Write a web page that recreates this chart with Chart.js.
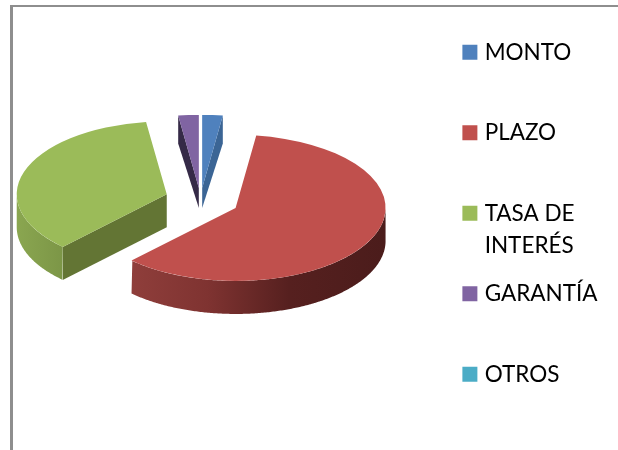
<!DOCTYPE html>
<html lang="es">
<head>
<meta charset="utf-8">
<title>Pie</title>
<script src="https://cdn.jsdelivr.net/npm/chart.js@4"></script>
<style>
html,body{margin:0;padding:0;background:#fff;width:618px;height:450px;overflow:hidden}
#wrap{position:relative;width:618px;height:450px}
#frameTop{position:absolute;left:10px;top:5px;right:0;height:2px;background:#8e8e8e}
#frameLeft{position:absolute;left:10px;top:5px;bottom:0;width:3px;background:#8e8e8e}
canvas{position:absolute;left:0;top:0}
</style>
</head>
<body>
<div id="wrap">
<div id="frameTop"></div><div id="frameLeft"></div>
<canvas id="c" width="618" height="450"></canvas>
</div>
<script>
const categories = ['MONTO', 'PLAZO', 'TASA DE', 'GARANTÍA', 'OTROS'];
const wrappedLine = ['', '', 'INTERÉS', '', ''];
const values = [2.2, 60, 35.6, 2.2, 0];
const topColors = ['#4f81bd', '#c0504d', '#9bbb59', '#8064a2', '#4bacc6'];
const faceColors = ['#3b6595', '#7a2f2d', '#637534', '#352a47', '#34798b'];
const wallStops = [
  [],
  [[0, '#8f3e3b'], [0.3, '#7f3331'], [0.62, '#56201f'], [1, '#4b1c1b']],
  [[0, '#8aa650'], [1, '#7c9647']],
  [],
  []
];
const explode = [24, 39, 35.5, 24, 0];
const depths = [28, 33, 33, 28, 0];
const tipDepths = [20, 33, 33, 20, 0];
const radius = 150;
const squash = 0.487;
const centerX = 200.5;
const centerY = 199.6;
const fontName = 'Lato';
const fontSize = 22.5;
const legendPad = 58;

function applyView(ctx, arc) {
  ctx.translate(centerX, centerY);
  ctx.scale(1, squash);
  ctx.translate(-arc.x, -arc.y);
}

const solid = {
  id: 'solid',
  afterDatasetUpdate(chart) {
    // Chart.js changes an exploded slice's radius and sweep; undo that so each slice keeps its value's angle.
    chart.getDatasetMeta(0).data.forEach((arc, i) => {
      const fix = 1 - Math.sin(Math.min(Math.PI, arc.circumference || 0));
      const grown = explode[i] * fix;
      const widen = grown / (2 * Math.PI * radius);
      arc.wallStart = arc.startAngle;
      arc.wallEnd = arc.endAngle;
      arc.outerRadius = radius - grown;
      if (arc.circumference > 0) {
        arc.startAngle -= widen;
        arc.endAngle += widen;
      }
    });
  },
  beforeDatasetDraw(chart) {
    const ctx = chart.ctx;
    const arcs = chart.getDatasetMeta(0).data;
    arcs.forEach((arc, i) => {
      const d = depths[i];
      const a0 = arc.wallStart, a1 = arc.wallEnd, mid = (a0 + a1) / 2;
      if (!d || a1 - a0 <= 0) return;
      const R = radius;
      const cx = centerX + Math.cos(mid) * explode[i];
      const cy = centerY + Math.sin(mid) * explode[i] * squash;
      const pt = a => [cx + Math.cos(a) * R, cy + Math.sin(a) * R * squash];
      const face = a => {
        const e = pt(a);
        ctx.beginPath();
        ctx.moveTo(cx, cy);
        ctx.lineTo(e[0], e[1]);
        ctx.lineTo(e[0], e[1] + d);
        ctx.lineTo(cx, cy + tipDepths[i]);
        ctx.closePath();
        ctx.fillStyle = faceColors[i];
        ctx.fill();
      };
      if (Math.cos(a0) < -1e-6) face(a0);
      if (Math.cos(a1) > 1e-6) face(a1);
      const from = Math.max(a0, 0), to = Math.min(a1, Math.PI);
      if (to > from && wallStops[i].length) {
        const xs = [pt(from)[0], pt(to)[0]];
        const g = ctx.createLinearGradient(Math.min(...xs), 0, Math.max(...xs), 0);
        wallStops[i].forEach(s => g.addColorStop(s[0], s[1]));
        ctx.beginPath();
        for (let a = from; a <= to; a += 0.01) { const p = pt(a); ctx.lineTo(p[0], p[1]); }
        for (let a = to; a >= from; a -= 0.01) { const p = pt(a); ctx.lineTo(p[0], p[1] + d); }
        ctx.closePath();
        ctx.fillStyle = g;
        ctx.fill();
      }
    });
    ctx.save();
    applyView(ctx, arcs[0]);
  },
  afterDatasetDraw(chart) {
    chart.ctx.restore();
  },
  afterDraw(chart) {
    const ctx = chart.ctx;
    const boxes = chart.legend.legendHitBoxes;
    ctx.save();
    ctx.font = fontSize + 'px ' + fontName;
    ctx.fillStyle = '#000';
    ctx.textBaseline = 'middle';
    wrappedLine.forEach((t, i) => {
      if (t) ctx.fillText(t, chart.legend.left + legendPad + 18.25, boxes[i].top + boxes[i].height / 2 + 32);
    });
    ctx.restore();
  }
};

new Chart(document.getElementById('c'), {
  type: 'pie',
  data: {
    labels: categories,
    datasets: [{
      data: values,
      backgroundColor: topColors,
      borderWidth: 0,
      offset: explode.map(v => v * 4),
      hoverOffset: 0,
      clip: false
    }]
  },
  plugins: [solid],
  options: {
    responsive: false,
    animation: false,
    radius: radius,
    layout: { padding: { top: -17, right: 10.5 } },
    events: [],
    plugins: {
      tooltip: { enabled: false },
      title: { display: false },
      legend: {
        position: 'right',
        align: 'start',
        labels: {
          boxWidth: 7,
          boxHeight: 7,
          padding: legendPad,
          color: '#000',
          font: { family: fontName, size: fontSize },
          generateLabels() {
            return categories.map((text, i) => ({
              text,
              fillStyle: topColors[i],
              strokeStyle: topColors[i],
              lineWidth: 8,
              fontColor: '#000',
              hidden: false,
              index: i
            }));
          }
        }
      }
    }
  }
});
</script>
</body>
</html>
